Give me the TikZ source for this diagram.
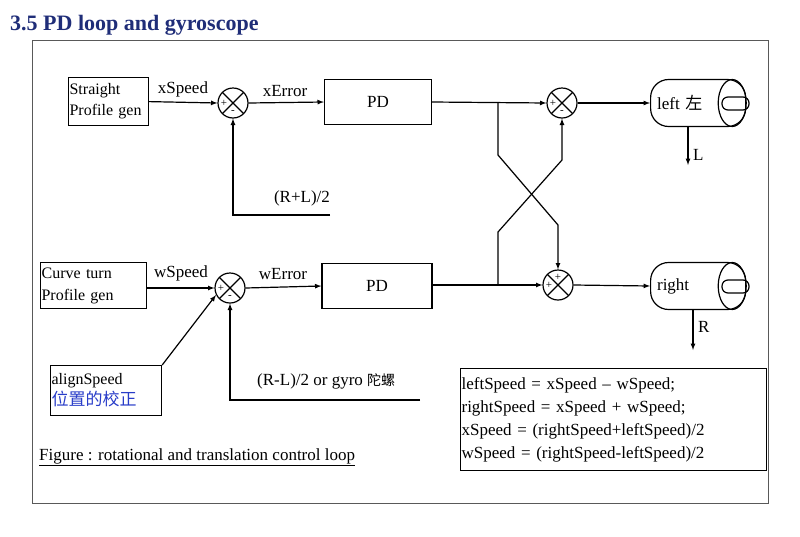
\documentclass[tikz,border=0pt]{standalone}
\usepackage{fontspec}
\setmainfont{Liberation Serif}
\newfontfamily\cjk{Noto Sans CJK SC}
\usetikzlibrary{positioning}
\definecolor{titleblue}{RGB}{31, 45, 120}
\definecolor{cjkblue}{RGB}{40, 60, 200}
\tikzset{
  blk/.style={draw, line width=1.2pt, inner sep=2pt},
  lbl/.style={font=\fontsize{17}{19}\selectfont, inner sep=1pt},
  sum/.style={draw, circle, minimum size=30pt, inner sep=0pt, line width=1.2pt,
    path picture={\draw[line width=1.2pt] (path picture bounding box.north west) -- (path picture bounding box.south east)
      (path picture bounding box.north east) -- (path picture bounding box.south west);}},
  sgn/.style={font=\fontsize{11}{11}\selectfont, inner sep=0pt},
  motor/.style={draw, rounded corners=18pt, minimum width=95pt, minimum height=47pt, line width=1.2pt},
  sig/.style={-latex, line width=1.2pt},
  wire/.style={line width=1.2pt}
}
\begin{document}
\begin{tikzpicture}[x=1pt, y=-1pt]
  \useasboundingbox (0,0) rectangle (800,536);
  % title and frame
  \node[anchor=west, font=\fontsize{22}{24}\selectfont\bfseries, text=titleblue, inner sep=0pt] (title) at (10,25) {3.5 PD loop and gyroscope};
  \draw[line width=0.8pt, gray!70!black] (32,40) rectangle (768,503);
  % upper loop
  \node[blk, anchor=north west, align=left, text width=78pt, font=\fontsize{16}{21}\selectfont, minimum height=48pt, inner sep=1pt] (straight) at (68,77) {Straight\\Profile gen};
  \node[sum] (s1) at (233,103) {};
  \node[blk, minimum width=107pt, minimum height=45pt, lbl] (pd1) at (378,102) {PD};
  \node[sum] (s2) at (562,103) {};
  \node[motor, anchor=west, lbl, text width=82pt, align=left] (lm) at (650,103) {left {\cjk 左}};
  \draw[line width=1.2pt] ([xshift=-14pt]lm.east) ellipse (14pt and 23.5pt);
  \draw[line width=1.2pt, rounded corners=6pt] (722,97) rectangle (749,110);
  % lower loop
  \node[blk, anchor=north west, align=left, text width=104pt, font=\fontsize{16}{22}\selectfont, minimum height=46pt, inner sep=1pt] (curve) at (40,262) {Curve turn\\Profile gen};
  \node[sum] (s3) at (230,288) {};
  \node[blk, minimum width=110pt, minimum height=45pt, lbl] (pd2) at (377,286) {PD};
  \node[sum] (s4) at (558,285) {};
  \node[motor, anchor=west, lbl, text width=82pt, align=left] (rm) at (650,286) {right};
  \draw[line width=1.2pt] ([xshift=-14pt]rm.east) ellipse (14pt and 23.5pt);
  \draw[line width=1.2pt, rounded corners=6pt] (722,280) rectangle (749,293);
  % signs
  \node[sgn] at ([xshift=-9pt]s1.center) {+};
  \node[sgn] at ([yshift=-9pt]s1.center) {-};
  \node[sgn] at ([xshift=-9pt]s2.center) {+};
  \node[sgn] at ([yshift=-9pt]s2.center) {-};
  \node[sgn] at ([xshift=-9pt]s3.center) {+};
  \node[sgn] at ([yshift=-9pt]s3.center) {-};
  \node[sgn] at ([xshift=-9pt]s4.center) {+};
  \node[sgn] at ([yshift=8pt]s4.center) {+};
  % forward path
  \draw[sig] (straight.east) -- (s1.west);
  \draw[sig] (s1.east) -- (pd1.west);
  \draw[sig] (pd1.east) -- (s2.west);
  \draw[sig] (s2.east) -- (lm.west);
  \draw[sig] (curve.east |- s3) -- (s3.west);
  \draw[sig] (s3.east) -- (pd2.west);
  \draw[sig] (pd2.east |- s4) -- (s4.west);
  \draw[sig] (s4.east) -- (rm.west);
  \node[lbl, anchor=south] (xs) at (183,98) {xSpeed};
  \node[lbl, anchor=south] (xe) at (285,98) {xError};
  \node[lbl, anchor=south] (ws) at (181,282) {wSpeed};
  \node[lbl, anchor=south] (we) at (283,281) {wError};
  % cross coupling
  \coordinate (ta) at (498,103);
  \coordinate (ba) at (498,285);
  \draw[sig] (ta) -- (498,155) -- (558,225) -- (s4.north);
  \draw[sig] (ba) -- (498,232) -- (562,160) -- (s2.south);
  % wheel outputs
  \coordinate (lo) at (688,165);
  \coordinate (ro) at (693,350);
  \draw[sig] (lm.south -| lo) -- (lo);
  \draw[sig] (rm.south -| ro) -- (ro);
  \node[lbl, anchor=west] (ll) at (692,155) {L};
  \node[lbl, anchor=west] (rl) at (697,327) {R};
  % feedback
  \coordinate (f1) at (330,215);
  \draw[sig] (f1) -- (s1 |- f1) -- (s1.south);
  \node[lbl] (f1l) at (302,198) {(R+L)/2};
  \coordinate (f2) at (420,400);
  \draw[sig] (f2) -- (s3 |- f2) -- (s3.south);
  \node[lbl, anchor=west] (f2l) at (256,381) {(R-L)/2 or gyro {\cjk\fontsize{14}{16}\selectfont 陀螺}};
  % align speed
  \node[blk, anchor=north west, text width=109pt, minimum height=50pt, align=left, font=\fontsize{16}{21}\selectfont, inner sep=1pt] (align) at (50,365) {alignSpeed\\{\cjk\fontsize{17}{21}\selectfont\color{cjkblue}位置的校正}};
  \draw[sig] (align.north east) -- ([xshift=-3pt,yshift=4pt]s3.south west);
  % caption and equations
  \node[lbl, anchor=west] (cap) at (38,457) {\underline{Figure : rotational and translation control loop}};
  \node[blk, anchor=north west, align=left, text width=304pt, minimum height=102pt, font=\fontsize{17}{23}\selectfont, inner sep=1pt] (eqs) at (460,368) {leftSpeed = xSpeed -- wSpeed;\\rightSpeed = xSpeed + wSpeed;\\xSpeed = (rightSpeed+leftSpeed)/2\\wSpeed = (rightSpeed-leftSpeed)/2};
\end{tikzpicture}
\end{document}
